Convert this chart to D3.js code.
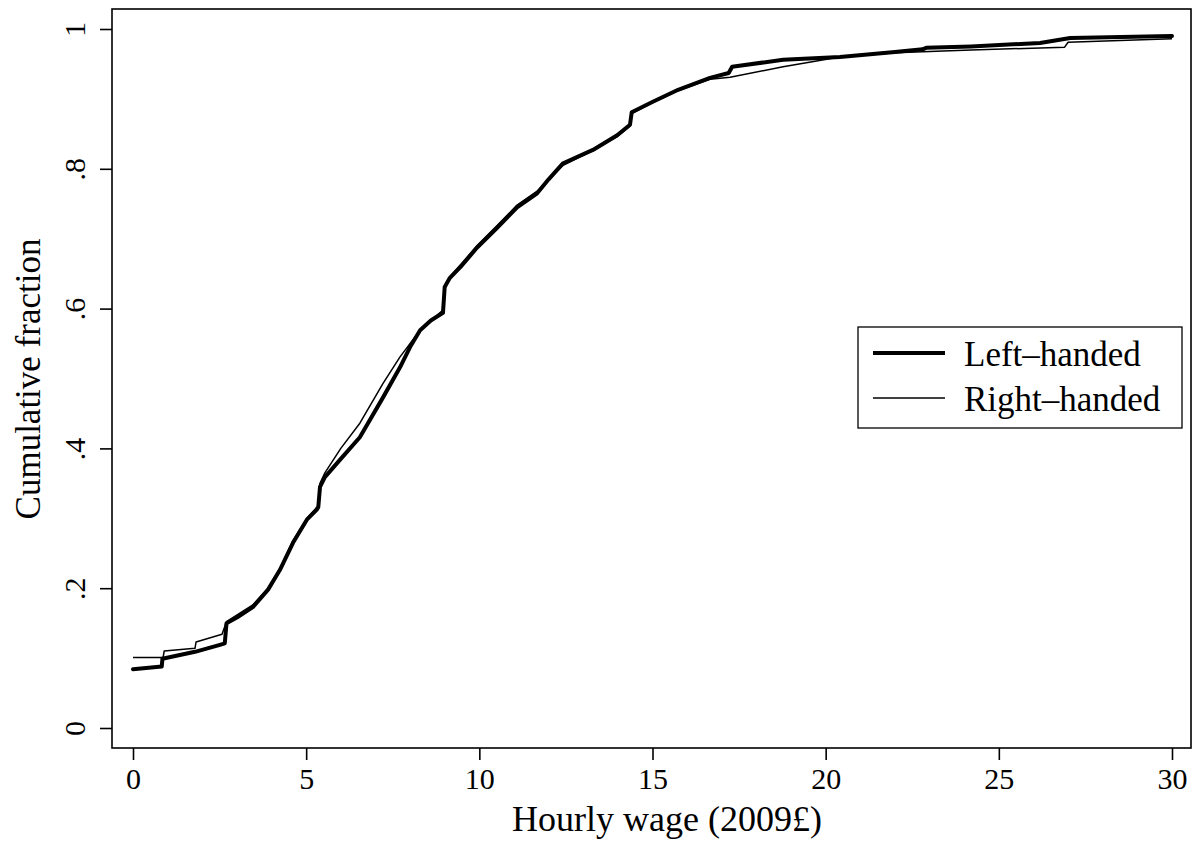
<!DOCTYPE html>
<html><head><meta charset="utf-8">
<script src="https://cdn.jsdelivr.net/npm/d3@7"></script>
<style>body{margin:0;background:#fff;} svg{display:block;} text{font-family:"Liberation Serif","DejaVu Serif",serif;fill:#000;}</style>
</head><body>
<svg id="c" width="1199" height="852"></svg>
<script>
const leftWage = [0,0.83,0.85,1.79,2.51,2.65,2.70,3.0,3.46,3.9,4.24,4.62,5.02,5.30,5.35,5.40,5.54,6.0,6.55,7.22,7.71,8.0,8.29,8.6,8.95,9.0,9.15,9.5,9.93,10.5,11.09,11.67,12.0,12.42,13.28,13.98,14.35,14.40,15.01,15.74,16.66,17.20,17.30,18.77,20.41,22.0,22.8,22.9,24.2,26.19,27.06,30];
const leftFrac = [0.084,0.088,0.099,0.109,0.119,0.121,0.150,0.158,0.173,0.198,0.226,0.265,0.298,0.312,0.316,0.345,0.359,0.385,0.416,0.473,0.516,0.545,0.569,0.583,0.594,0.631,0.644,0.662,0.687,0.715,0.745,0.765,0.785,0.808,0.827,0.848,0.863,0.881,0.896,0.913,0.930,0.937,0.946,0.956,0.960,0.967,0.971,0.973,0.975,0.980,0.987,0.990];
const rightWage = [0,0.87,0.90,1.79,1.82,2.57,2.70,3.46,3.9,4.24,4.62,5.02,5.35,5.40,5.54,6.0,6.55,7.22,7.71,8.29,8.95,9.0,9.15,9.93,10.5,11.09,11.67,12.42,13.28,13.98,14.35,14.40,15.01,15.74,16.66,17.24,18.77,20.41,22.0,24.2,26.9,27.0,30];
const rightFrac = [0.101,0.101,0.110,0.114,0.123,0.134,0.152,0.176,0.200,0.228,0.268,0.300,0.318,0.350,0.365,0.400,0.436,0.493,0.531,0.569,0.598,0.628,0.645,0.690,0.718,0.748,0.768,0.805,0.826,0.846,0.861,0.879,0.895,0.912,0.928,0.931,0.946,0.960,0.966,0.970,0.974,0.981,0.986];
const xTicks = [0,5,10,15,20,25,30];
const yTicks = [0,0.2,0.4,0.6,0.8,1];
const yTickLabels = ["0",".2",".4",".6",".8","1"];
const seriesNames = ["Left\u2013handed","Right\u2013handed"];

const svg = d3.select("#c");
const x = d3.scaleLinear().domain([0,30]).range([133,1172]);
const y = d3.scaleLinear().domain([0,1]).range([728,29]);

// frame
svg.append("rect").attr("x",112).attr("y",9).attr("width",1079).attr("height",739)
  .attr("fill","none").attr("stroke","#000").attr("stroke-width",1.6);

const xAxis = svg.append("g").attr("transform","translate(0,748)")
  .call(d3.axisBottom(x).tickValues(xTicks).tickSize(12).tickPadding(8).tickFormat(d3.format("d")));
xAxis.select(".domain").remove();
xAxis.selectAll("line").attr("stroke","#000").attr("stroke-width",1.6);
xAxis.selectAll("text").attr("font-size",30).attr("fill","#000");

const yAxis = svg.append("g").attr("transform","translate(112,0)")
  .call(d3.axisLeft(y).tickValues(yTicks).tickSize(12).tickFormat((d,i)=>yTickLabels[i]));
yAxis.select(".domain").remove();
yAxis.selectAll("line").attr("stroke","#000").attr("stroke-width",1.6);
yAxis.selectAll("text").attr("font-size",30).attr("fill","#000")
  .attr("x",null).attr("dy",null)
  .attr("transform","translate(-27,0) rotate(-90)")
  .attr("text-anchor","middle");

const line = d3.line().x(d=>x(d[0])).y(d=>y(d[1]));
const rightData = rightWage.map((w,i)=>[w,rightFrac[i]]);
const leftData = leftWage.map((w,i)=>[w,leftFrac[i]]);
svg.append("path").datum(rightData).attr("d",line).attr("fill","none").attr("stroke","#000").attr("stroke-width",1.5).attr("stroke-linejoin","round");
svg.append("path").datum(leftData).attr("d",line).attr("fill","none").attr("stroke","#000").attr("stroke-width",4).attr("stroke-linejoin","round").attr("stroke-linecap","round");

// axis titles
svg.append("text").attr("x",667).attr("y",831).attr("text-anchor","middle").attr("font-size",36).text("Hourly wage (2009\u00a3)");
svg.append("text").attr("transform","translate(40,379) rotate(-90)").attr("text-anchor","middle").attr("font-size",35).text("Cumulative fraction");

// legend
const lg = svg.append("g");
lg.append("rect").attr("x",858).attr("y",327).attr("width",324).attr("height",101).attr("fill","#fff").attr("stroke","#000").attr("stroke-width",1.3);
const widths = [4,1.5];
const ly = [353,398];
seriesNames.forEach((n,i)=>{
  lg.append("line").attr("x1",873).attr("x2",945).attr("y1",ly[i]).attr("y2",ly[i]).attr("stroke","#000").attr("stroke-width",widths[i]);
  lg.append("text").attr("x",964).attr("y",ly[i]+13).attr("font-size",35).text(n);
});
</script>
</body></html>
